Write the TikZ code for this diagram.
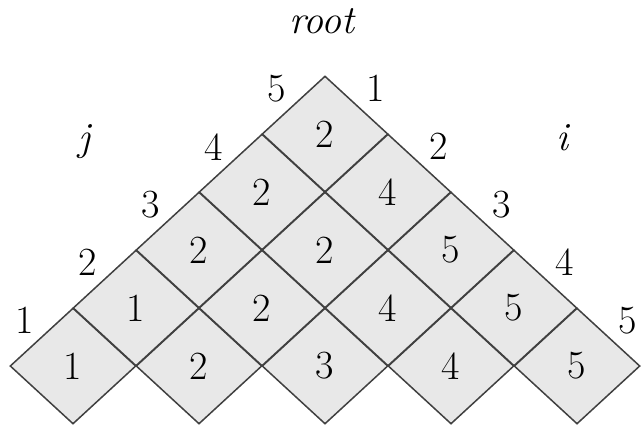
\documentclass[tikz,border=0pt]{standalone}
\usepackage{fontspec}
\usetikzlibrary{
  % diamond cells
  shapes.geometric,%
  calc,%
  positioning
}
\tikzset{>=latex}
\tikzset{font=\fontsize{20}{24}\selectfont}
\tikzset{cell/.style={diamond, draw=black!75, fill=gray!18, line width=0.75pt,
  minimum width=63pt, minimum height=58pt, inner sep=0pt}}

\begin{document}
\begin{tikzpicture}[x=0.5pt, y=-0.5pt]
  \useasboundingbox (0,0) rectangle (641,424); %
  % rows of the table, bottom row first
  \foreach \r/\vals in {1/{1,2,3,4,5}, 2/{1,2,4,5}, 3/{2,2,5}, 4/{2,4}, 5/{2}} {
    \foreach \v [count=\k] in \vals {
      \node[cell] (d-\r-\k) at ({73+63*(\r-1)+126*(\k-1)}, {366-58*(\r-1)}) {\v}; %
    }
  }
  % indices along the two sides
  \foreach \n in {1,...,5} {
    \pgfmathtruncatemacro{\m}{6-\n}
    \node (j-\n) at ($(d-\n-1.north west)+(-16.5,-16)$) {\n}; %
    \node (i-\n) at ($(d-\m-\n.north east)+(19,-16.5)$) {\n}; %
  }
  \node[anchor=base] (root) at (322, 33) {\itshape root}; %
  \node[anchor=base] (j) at (84, 150) {\itshape j}; %
  \node[anchor=base] (i) at (562, 150) {\itshape i}; %
\end{tikzpicture}
\end{document}
